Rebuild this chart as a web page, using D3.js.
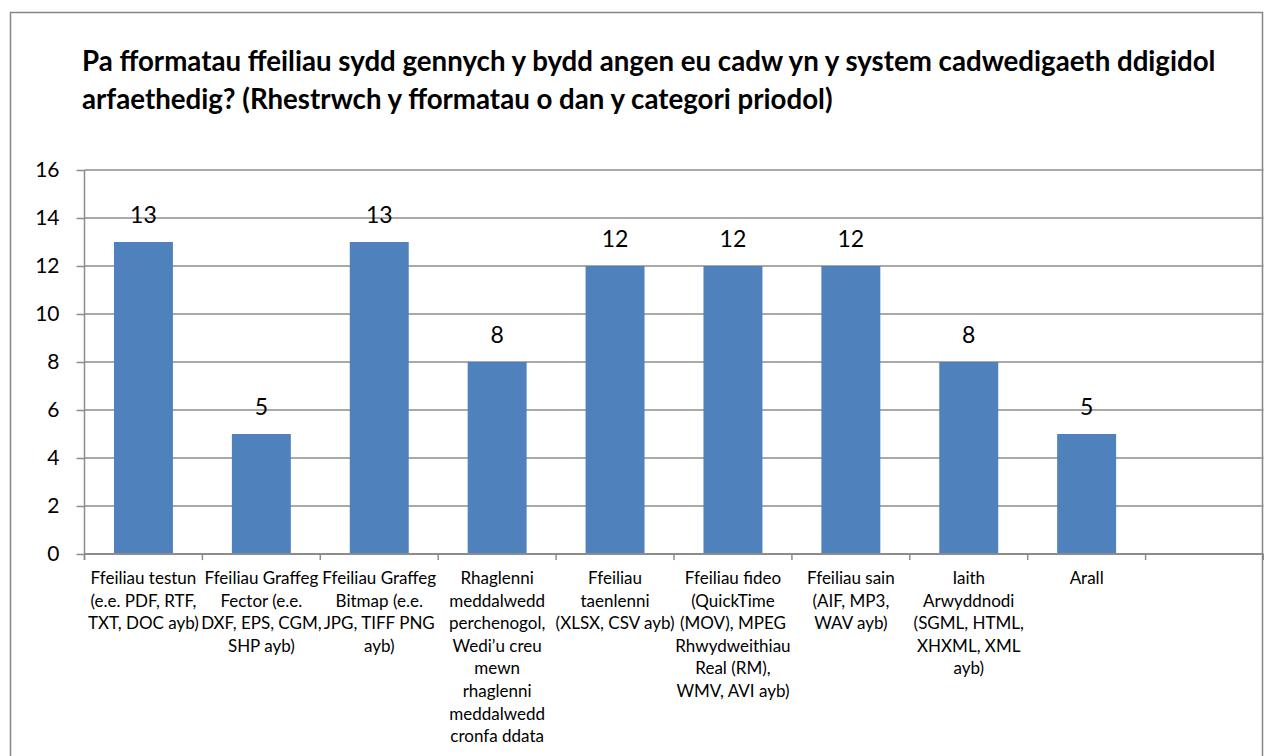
<!DOCTYPE html>
<html>
<head>
<meta charset="utf-8">
<script src="https://cdn.jsdelivr.net/npm/d3@7"></script>
<style>
  html, body { margin: 0; padding: 0; background: #fff; }
  svg { display: block; }
</style>
</head>
<body>
<svg id="chart" width="1264" height="756"></svg>
<script>
// ---- data ----
const titleLines = [
  "Pa fformatau ffeiliau sydd gennych y bydd angen eu cadw yn y system cadwedigaeth ddigidol",
  "arfaethedig? (Rhestrwch y fformatau o dan y categori priodol)"
];
const categories = [
  "Ffeiliau testun (e.e. PDF, RTF, TXT, DOC ayb)",
  "Ffeiliau Graffeg Fector (e.e. DXF, EPS, CGM, SHP ayb)",
  "Ffeiliau Graffeg Bitmap (e.e. JPG, TIFF PNG ayb)",
  "Rhaglenni meddalwedd perchenogol, Wedi’u creu mewn rhaglenni meddalwedd cronfa ddata",
  "Ffeiliau taenlenni (XLSX, CSV ayb)",
  "Ffeiliau fideo (QuickTime (MOV), MPEG Rhwydweithiau Real (RM), WMV, AVI ayb)",
  "Ffeiliau sain (AIF, MP3, WAV ayb)",
  "Iaith Arwyddnodi (SGML, HTML, XHXML, XML ayb)",
  "Arall",
  ""
];
const categoryLines = [
  ["Ffeiliau testun", "(e.e. PDF, RTF,", "TXT, DOC ayb)"],
  ["Ffeiliau Graffeg", "Fector (e.e.", "DXF, EPS, CGM,", "SHP ayb)"],
  ["Ffeiliau Graffeg", "Bitmap (e.e.", "JPG, TIFF PNG", "ayb)"],
  ["Rhaglenni", "meddalwedd", "perchenogol,", "Wedi’u creu", "mewn", "rhaglenni", "meddalwedd", "cronfa ddata"],
  ["Ffeiliau", "taenlenni", "(XLSX, CSV ayb)"],
  ["Ffeiliau fideo", "(QuickTime", "(MOV), MPEG", "Rhwydweithiau", "Real (RM),", "WMV, AVI ayb)"],
  ["Ffeiliau sain", "(AIF, MP3,", "WAV ayb)"],
  ["Iaith", "Arwyddnodi", "(SGML, HTML,", "XHXML, XML", "ayb)"],
  ["Arall"],
  []
];
const values = [13, 5, 13, 8, 12, 12, 12, 8, 5, null];
const yTicks = [0, 2, 4, 6, 8, 10, 12, 14, 16];

// ---- layout ----
const svg = d3.select("#chart");
const plotLeft = 84.5, plotRight = 1263.5, plotTop = 170, plotBottom = 554;
const gridColor = "#8c8c8c";
const font = "Lato, 'Open Sans', sans-serif";

// chart border
svg.append("rect")
  .attr("x", 10.5).attr("y", 12.5)
  .attr("width", 1252).attr("height", 760)
  .attr("fill", "#fff")
  .attr("stroke", "#868686").attr("stroke-width", 1.5);

// title
const title = svg.append("text")
  .attr("font-family", font).attr("font-weight", 700)
  .attr("font-size", 26).attr("fill", "#000");
title.selectAll("tspan").data(titleLines).join("tspan")
  .attr("x", 82).attr("y", (d, i) => 71 + i * 38)
  .text(d => d);
// fit first title line width to reference
const firstLen = title.select("tspan").node().getComputedTextLength();
title.attr("font-size", 26 * 1134 / firstLen);

const x = d3.scaleBand().domain(categories).range([plotLeft, plotRight])
  .paddingInner(0.5).paddingOuter(0.25);
const y = d3.scaleLinear().domain([0, 16]).range([plotBottom, plotTop]);
const step = x.step();

// gridlines
svg.append("g").selectAll("line").data(yTicks.filter(d => d > 0)).join("line")
  .attr("x1", plotLeft).attr("x2", plotRight)
  .attr("y1", d => y(d)).attr("y2", d => y(d))
  .attr("stroke", gridColor).attr("stroke-width", 1.5);

// y axis
const yAxis = svg.append("g")
  .attr("transform", `translate(${plotLeft},0)`)
  .call(d3.axisLeft(y).tickValues(yTicks).tickSize(8).tickPadding(17).tickFormat(d3.format("d")));
yAxis.select(".domain").attr("stroke", gridColor).attr("stroke-width", 1.5)
  .attr("d", `M0,${plotTop}V${plotBottom + 6}`);
yAxis.selectAll(".tick line").attr("stroke", gridColor).attr("stroke-width", 1.5);
yAxis.selectAll(".tick text")
  .attr("font-family", font).attr("font-size", 21).attr("fill", "#000");

const barData = categories.map((c, i) => ({ c, v: values[i] })).filter(d => d.v !== null);

// bars
svg.append("g").selectAll("rect").data(barData).join("rect")
  .attr("x", d => x(d.c)).attr("width", x.bandwidth())
  .attr("y", d => y(d.v)).attr("height", d => y(0) - y(d.v))
  .attr("fill", "#4F81BD");

// value labels
svg.append("g").selectAll("text").data(barData).join("text")
  .attr("x", d => x(d.c) + x.bandwidth() / 2)
  .attr("y", d => y(d.v) - 19)
  .attr("text-anchor", "middle")
  .attr("font-family", font).attr("font-size", 23).attr("fill", "#000")
  .text(d => d.v);

// x axis line + ticks
svg.append("line")
  .attr("x1", plotLeft).attr("x2", plotRight).attr("y1", plotBottom).attr("y2", plotBottom)
  .attr("stroke", gridColor).attr("stroke-width", 2);
svg.append("g").selectAll("line").data(d3.range(categories.length + 1)).join("line")
  .attr("x1", i => plotLeft + i * step).attr("x2", i => plotLeft + i * step)
  .attr("y1", plotBottom).attr("y2", plotBottom + 6)
  .attr("stroke", gridColor).attr("stroke-width", 1.5);

// category labels
const catG = svg.append("g")
  .attr("font-family", font).attr("font-size", 17).attr("fill", "#000")
  .attr("text-anchor", "middle");
categories.forEach((c, i) => {
  const t = catG.append("text");
  t.selectAll("tspan").data(categoryLines[i]).join("tspan")
    .attr("x", x(c) + x.bandwidth() / 2)
    .attr("y", (d, j) => 584 + j * 22.6)
    .text(d => d);
});
</script>
</body>
</html>
